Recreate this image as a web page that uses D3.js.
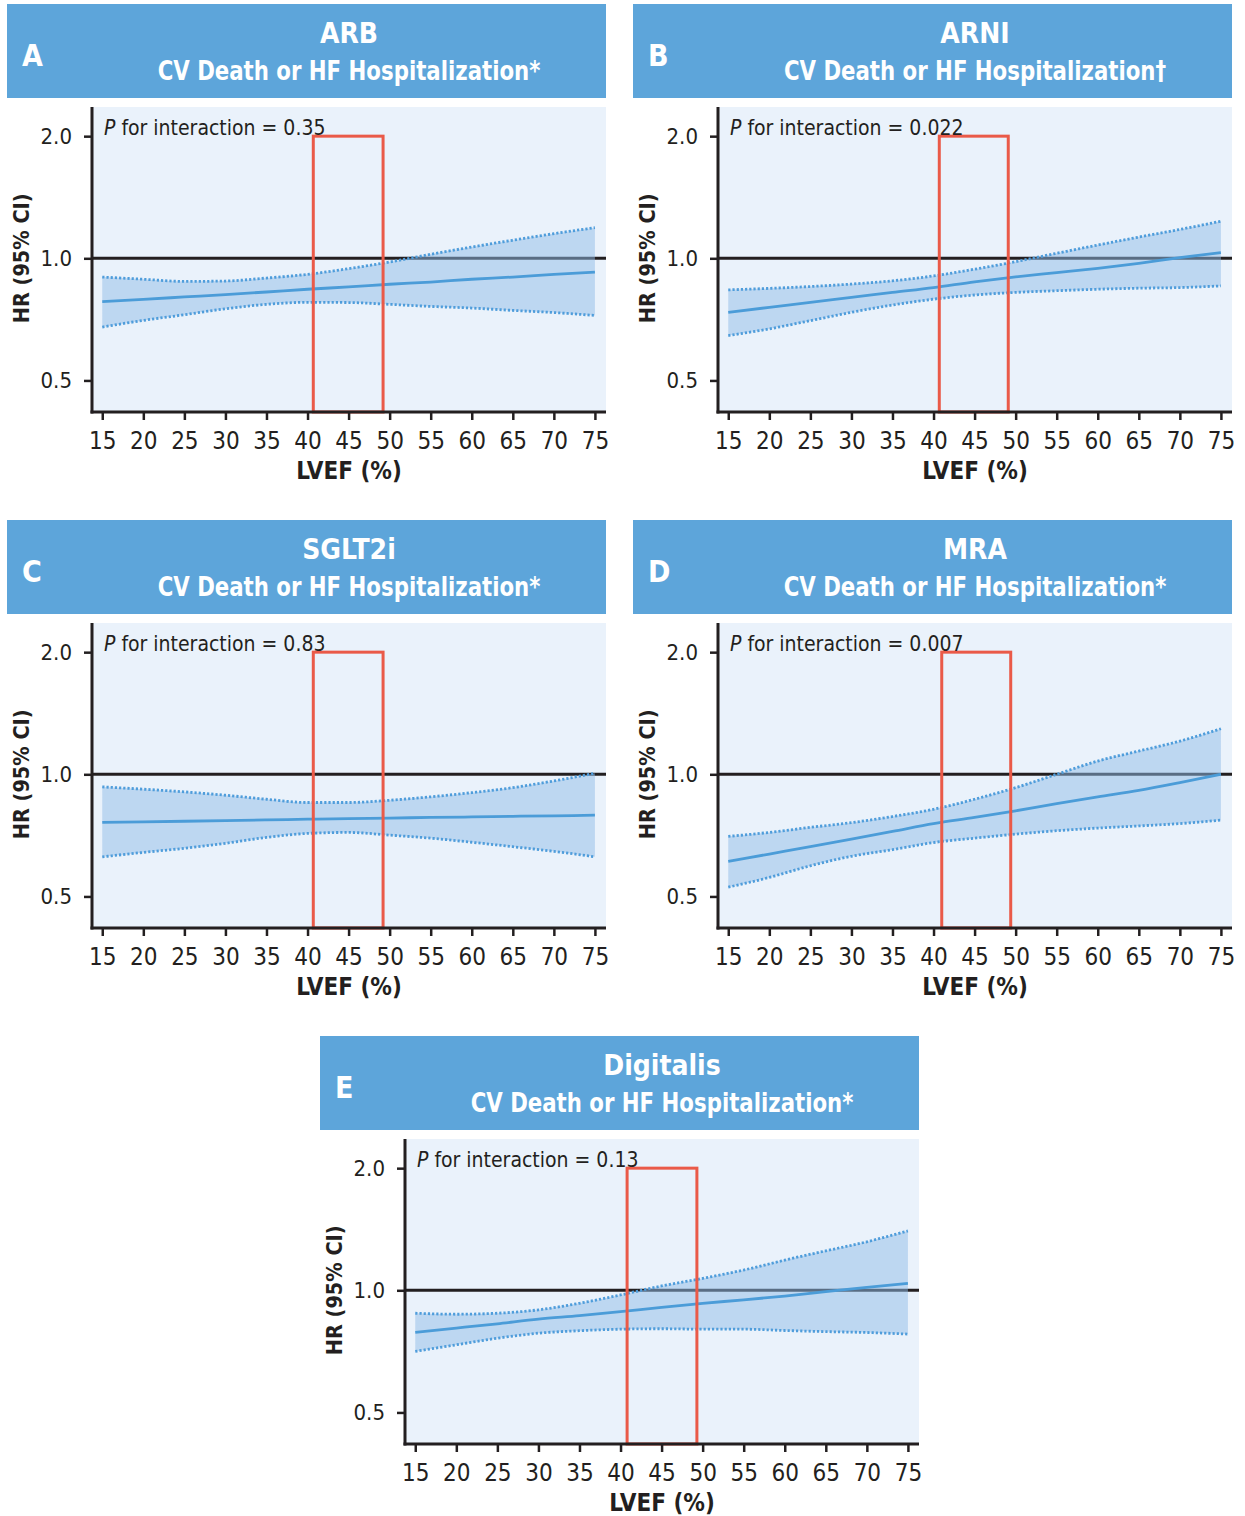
<!DOCTYPE html>
<html><head><meta charset="utf-8">
<script src="https://cdn.jsdelivr.net/npm/d3@7"></script>
<style>body{margin:0;background:#fff} svg{display:block}</style>
</head><body>
<svg id="c" width="1245" height="1516"></svg>
<script>
// ---------------- data ----------------
const lvef = [15, 20, 25, 30, 35, 40, 45, 50, 55, 60, 65, 70, 75];
const panelLetters = ["A", "B", "C", "D", "E"];
const drugNames = ["ARB", "ARNI", "SGLT2i", "MRA", "Digitalis"];
const outcomeLabel = "CV Death or HF Hospitalization";
const outcomeMarks = ["*", "\u2020", "*", "*", "*"];
const pValues = ["0.35", "0.022", "0.83", "0.007", "0.13"];

const hrARB    = [0.782, 0.792, 0.803, 0.814, 0.826, 0.839, 0.850, 0.863, 0.874, 0.888, 0.899, 0.913, 0.925];
const lowerARB = [0.677, 0.703, 0.726, 0.751, 0.770, 0.779, 0.778, 0.770, 0.761, 0.754, 0.744, 0.735, 0.723];
const upperARB = [0.899, 0.888, 0.877, 0.879, 0.894, 0.913, 0.943, 0.979, 1.023, 1.066, 1.108, 1.150, 1.190];

const hrARNI    = [0.736, 0.757, 0.779, 0.801, 0.824, 0.847, 0.875, 0.900, 0.922, 0.945, 0.972, 1.004, 1.033];
const lowerARNI = [0.645, 0.670, 0.702, 0.736, 0.767, 0.793, 0.812, 0.824, 0.832, 0.839, 0.844, 0.847, 0.855];
const upperARNI = [0.836, 0.843, 0.852, 0.864, 0.880, 0.905, 0.940, 0.981, 1.029, 1.078, 1.128, 1.178, 1.234];

const hrSGLT2i    = [0.761, 0.763, 0.766, 0.769, 0.772, 0.775, 0.778, 0.780, 0.783, 0.785, 0.788, 0.790, 0.793];
const lowerSGLT2i = [0.626, 0.642, 0.657, 0.676, 0.699, 0.715, 0.719, 0.708, 0.696, 0.680, 0.663, 0.646, 0.626];
const upperSGLT2i = [0.931, 0.919, 0.905, 0.888, 0.868, 0.852, 0.852, 0.863, 0.880, 0.901, 0.927, 0.963, 1.006];

const hrMRA    = [0.610, 0.636, 0.663, 0.692, 0.723, 0.756, 0.783, 0.813, 0.847, 0.880, 0.913, 0.954, 1.000];
const lowerMRA = [0.527, 0.557, 0.595, 0.628, 0.652, 0.679, 0.696, 0.712, 0.726, 0.737, 0.746, 0.756, 0.771];
const upperMRA = [0.703, 0.719, 0.740, 0.760, 0.787, 0.820, 0.868, 0.927, 1.000, 1.078, 1.141, 1.207, 1.295];

const hrDigitalis    = [0.788, 0.807, 0.827, 0.849, 0.866, 0.886, 0.908, 0.929, 0.947, 0.968, 0.992, 1.017, 1.040];
const lowerDigitalis = [0.707, 0.734, 0.762, 0.784, 0.795, 0.802, 0.804, 0.802, 0.802, 0.796, 0.791, 0.787, 0.780];
const upperDigitalis = [0.878, 0.873, 0.878, 0.895, 0.929, 0.974, 1.025, 1.070, 1.122, 1.187, 1.251, 1.317, 1.401];

const boxLVEFfrom = [40.7, 40.7, 40.7, 41.0, 40.8];
const boxLVEFto   = [49.2, 49.1, 49.2, 49.4, 49.3];
const boxTopHR = 2.0;
const refHR = 1.0;
const yTicks = [0.5, 1.0, 2.0];
const xTicks = lvef;

const hrSeries = [hrARB, hrARNI, hrSGLT2i, hrMRA, hrDigitalis];
const lowerSeries = [lowerARB, lowerARNI, lowerSGLT2i, lowerMRA, lowerDigitalis];
const upperSeries = [upperARB, upperARNI, upperSGLT2i, upperMRA, upperDigitalis];

// ---------------- layout ----------------
const FONT = '"Liberation Sans Narrow","DejaVu Sans Condensed","Roboto Condensed","Open Sans",sans-serif';
const origins = [[7, 4], [633, 4], [7, 520], [633, 520], [320, 1036]];
const HEADER_W = 599, HEADER_H = 94;
const INK = "#231f20";
const svg = d3.select("#c");

origins.forEach((o, i) => {
  const [hx, hy] = o;
  const g = svg.append("g").attr("transform", `translate(${hx},${hy})`);

  // header
  g.append("rect").attr("x", 0).attr("y", 0).attr("width", HEADER_W).attr("height", HEADER_H)
    .attr("fill", "#5da5da");
  const left = 85, right = HEADER_W, top = 103, bottom = 408;
  const cx = (left + right) / 2;
  g.append("text").attr("x", 15).attr("y", 62).text(panelLetters[i])
    .attr("font-family", FONT).attr("font-weight", "bold").attr("font-size", 30).attr("fill", "#fff");
  g.append("text").attr("x", cx).attr("y", 39).attr("text-anchor", "middle").text(drugNames[i])
    .attr("font-family", FONT).attr("font-weight", "bold").attr("font-size", 28).attr("fill", "#fff");
  g.append("g").attr("transform", `translate(${cx},76) scale(0.91,1)`)
    .append("text").attr("x", 0).attr("y", 0).attr("text-anchor", "middle")
    .text(outcomeLabel + outcomeMarks[i])
    .attr("font-family", FONT).attr("font-weight", "bold").attr("font-size", 26).attr("fill", "#fff");

  // scales
  const x = d3.scaleLinear().domain([13.75, 76.35]).range([left, right]);
  const y = d3.scaleLog().domain([0.418, 2.36]).range([bottom, top]);

  g.append("rect").attr("x", left).attr("y", top).attr("width", right - left).attr("height", bottom - top)
    .attr("fill", "#eaf2fb");

  // reference line
  g.append("line").attr("x1", left).attr("x2", right).attr("y1", y(refHR)).attr("y2", y(refHR))
    .attr("stroke", INK).attr("stroke-width", 3);

  const rows = lvef.map((v, k) => ({ x: v, hr: hrSeries[i][k], lo: lowerSeries[i][k], up: upperSeries[i][k] }));
  const area = d3.area().x(d => x(d.x)).y0(d => y(d.lo)).y1(d => y(d.up)).curve(d3.curveMonotoneX);
  g.append("path").attr("d", area(rows)).attr("fill", "#8fbbe8").attr("fill-opacity", 0.5);

  const lineOf = key => d3.line().x(d => x(d.x)).y(d => y(d[key])).curve(d3.curveMonotoneX);
  ["lo", "up"].forEach(k => {
    g.append("path").attr("d", lineOf(k)(rows)).attr("fill", "none")
      .attr("stroke", "#4f9ddb").attr("stroke-width", 2.8).attr("stroke-dasharray", "2.2,2");
  });
  g.append("path").attr("d", lineOf("hr")(rows)).attr("fill", "none")
    .attr("stroke", "#4b9cd8").attr("stroke-width", 2.8);

  // red box
  g.append("rect").attr("x", x(boxLVEFfrom[i])).attr("y", y(boxTopHR))
    .attr("width", x(boxLVEFto[i]) - x(boxLVEFfrom[i])).attr("height", bottom - y(boxTopHR))
    .attr("fill", "none").attr("stroke", "#ea5a48").attr("stroke-width", 3);

  // axes
  const xa = g.append("g").attr("transform", `translate(0,${bottom})`)
    .call(d3.axisBottom(x).tickValues(xTicks).tickSize(8).tickPadding(12).tickFormat(d3.format("d")));
  xa.select(".domain").remove();
  xa.selectAll(".tick line").attr("stroke", INK).attr("stroke-width", 2.5);
  xa.selectAll("text").attr("font-family", FONT).attr("font-size", 24).attr("fill", INK);

  const ya = g.append("g").attr("transform", `translate(${left},0)`)
    .call(d3.axisLeft(y).tickValues(yTicks).tickSize(8).tickPadding(12).tickFormat(d3.format(".1f")));
  ya.select(".domain").remove();
  ya.selectAll(".tick line").attr("stroke", INK).attr("stroke-width", 2.5);
  ya.selectAll("text").attr("font-family", FONT).attr("font-size", 22).attr("fill", INK);

  g.append("line").attr("x1", left).attr("x2", left).attr("y1", top).attr("y2", bottom + 1.5)
    .attr("stroke", INK).attr("stroke-width", 3);
  g.append("line").attr("x1", left - 1.5).attr("x2", right).attr("y1", bottom).attr("y2", bottom)
    .attr("stroke", INK).attr("stroke-width", 3);

  // axis titles
  g.append("text").attr("x", cx).attr("y", 475).attr("text-anchor", "middle").text("LVEF (%)")
    .attr("font-family", FONT).attr("font-weight", "bold").attr("font-size", 24).attr("fill", INK);
  g.append("text").attr("transform", `translate(22,${y(1.0)}) rotate(-90)`).attr("text-anchor", "middle")
    .text("HR (95% CI)")
    .attr("font-family", FONT).attr("font-weight", "bold").attr("font-size", 21.5).attr("fill", INK);

  // P for interaction
  const pt = g.append("text").attr("x", 97).attr("y", 131)
    .attr("font-family", FONT).attr("font-size", 21).attr("fill", INK);
  pt.append("tspan").attr("font-style", "italic").text("P");
  pt.append("tspan").text(" for interaction = " + pValues[i]);
});
</script>
</body></html>
